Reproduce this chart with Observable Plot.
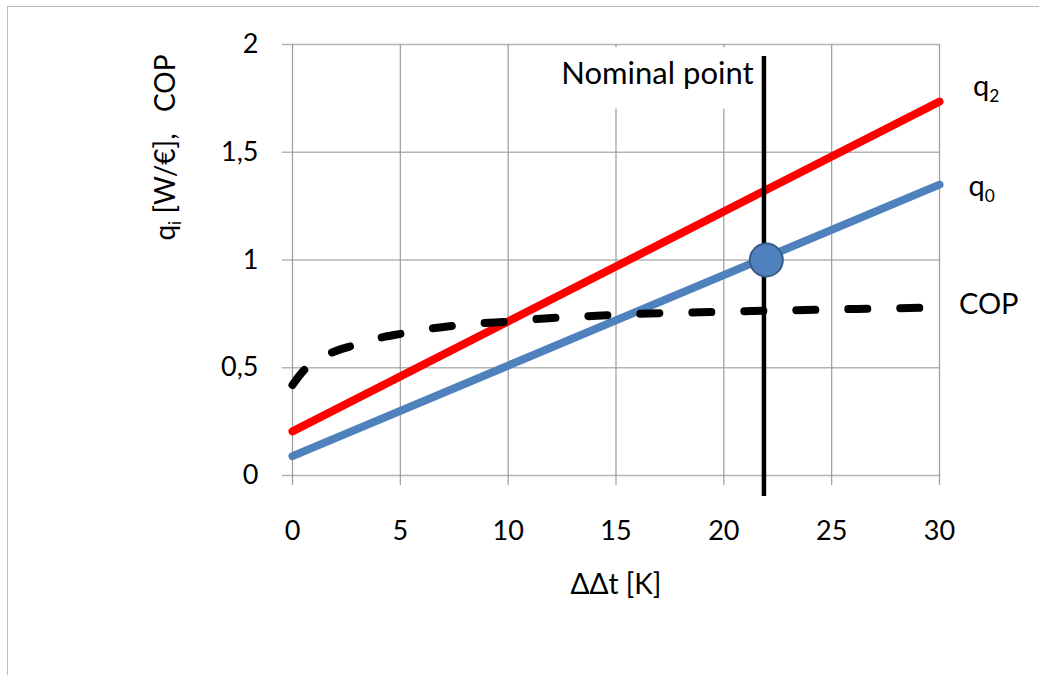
<!DOCTYPE html>
<html><head><meta charset="utf-8">
<script src="https://cdn.jsdelivr.net/npm/d3@7"></script>
<script src="https://cdn.jsdelivr.net/npm/@observablehq/plot@0.6"></script>
<style>
body{margin:0;background:#fff;}
#wrap{position:relative;width:1039px;height:675px;overflow:hidden;background:#fff;}
#border{position:absolute;left:7px;top:6px;width:1200px;height:900px;border-left:1.5px solid #bcbcbc;border-top:1.5px solid #bcbcbc;}
#chart{position:absolute;left:0;top:0;}
#chart text{white-space:pre;}
</style></head><body>
<div id="wrap"><div id="border"></div><div id="chart"></div></div>
<script>
// ---- data ----
const xTicks = [0, 5, 10, 15, 20, 25, 30];
const yTicks = [0, 0.5, 1, 1.5, 2];
const yTickLabels = ["0", "0,5", "1", "1,5", "2"];

const qX = [0, 30];
const q2 = [0.205, 1.735];
const q0 = [0.09, 1.35];

const copX = [0, 0.5, 1, 1.7, 2.7, 4, 5, 6.3, 7.4, 8.7, 10, 11.7, 14.1, 16.5, 18.9, 21.3, 23.8, 26.2, 28.6, 30];
const cop  = [0.42, 0.485, 0.525, 0.565, 0.6, 0.638, 0.657, 0.68, 0.694, 0.706, 0.714, 0.729, 0.741, 0.752, 0.757, 0.763, 0.768, 0.773, 0.777, 0.78];

const nominalX = 21.86;
const nominalRange = [-0.097, 1.944];
const nominalPoint = [{x: 21.97, y: 1.0}];

const seriesLabels = [
  {text: "q_2", x: 31.55, y: 1.76},
  {text: "q_0", x: 31.35, y: 1.296},
  {text: "COP", x: 30.9, y: 0.75}
];
const nominalLabel = [{text: "Nominal point", x: 21.38, y: 1.815}];
const labelBox = [{x1: 11.5, x2: 21.7, y1: 1.70, y2: 1.985}];
const xTitle = "ΔΔt [K]";
const yTitle = "q_i [W/€],   COP";

// ---- tables ----
const q2Data = qX.map((x, i) => ({x, y: q2[i]}));
const q0Data = qX.map((x, i) => ({x, y: q0[i]}));
const copData = copX.map((x, i) => ({x, y: cop[i]}));
const yFmt = d => yTickLabels[yTicks.indexOf(d)];

const font = "Lato, 'Open Sans', sans-serif";

const chart = Plot.plot({
  width: 1039,
  height: 675,
  marginLeft: 292,
  marginRight: 100,
  marginTop: 44,
  marginBottom: 200,
  style: {fontFamily: font, fontSize: "27px", color: "black", background: "transparent"},
  x: {domain: [0, 30]},
  y: {domain: [0, 2]},
  marks: [
    Plot.gridY(yTicks, {stroke: "#b4b4b4", strokeOpacity: 1, strokeWidth: 1.5}),
    Plot.gridX(xTicks, {stroke: "#9c9c9c", strokeOpacity: 1, strokeWidth: 1.2}),
    Plot.axisY({ticks: yTicks, tickFormat: yFmt, tickSize: 10, tickPadding: 24, stroke: "#b4b4b4", strokeWidth: 1.5, fill: "black", fontSize: 27, label: null}),
    Plot.axisX({ticks: xTicks, tickSize: 10, tickPadding: 35, stroke: "#9c9c9c", strokeWidth: 1.2, fill: "black", fontSize: 27, label: null}),
    Plot.rect(labelBox, {x1: "x1", x2: "x2", y1: "y1", y2: "y2", fill: "white"}),
    Plot.line(q0Data, {x: "x", y: "y", stroke: "#4f81bd", strokeWidth: 8}),
    Plot.line(q2Data, {x: "x", y: "y", stroke: "#ff0000", strokeWidth: 8}),
    Plot.line(copData, {x: "x", y: "y", stroke: "black", strokeWidth: 8, curve: "monotone-x", strokeDasharray: "19,33", strokeLinecap: "round"}),
    Plot.ruleX([nominalX], {y1: nominalRange[0], y2: nominalRange[1], stroke: "black", strokeWidth: 4.5}),
    Plot.dot(nominalPoint, {x: "x", y: "y", r: 16.5, fill: "#4f81bd", stroke: "#385d8a", strokeWidth: 2}),
    Plot.text(nominalLabel, {x: "x", y: "y", text: "text", textAnchor: "end", lineAnchor: "bottom", fontSize: 31, fill: "black"}),
    Plot.text(seriesLabels, {x: "x", y: "y", text: "text", textAnchor: "start", lineAnchor: "bottom", fontSize: 29, fill: "black"}),
    Plot.text([xTitle], {frameAnchor: "bottom", dy: 110, textAnchor: "middle", lineAnchor: "middle", fontSize: 28, fill: "black"}),
    Plot.text([yTitle], {frameAnchor: "top-left", dx: -126, dy: 103, rotate: -90, textAnchor: "middle", lineAnchor: "middle", fontSize: 28, fill: "black"})
  ]
});

// subscripts: "a_b rest" -> a, sub b, rest
d3.select(chart).selectAll("text").each(function() {
  const s = this.textContent;
  const m = s.match(/^(.*?)_(\w)(.*)$/);
  if (!m) return;
  const t = d3.select(this);
  const fs = parseFloat(getComputedStyle(this).fontSize) || 28;
  t.text(null);
  t.append("tspan").text(m[1]);
  t.append("tspan").attr("dy", fs * 0.2).attr("font-size", fs * 0.62).text(m[2]);
  if (m[3]) t.append("tspan").attr("dy", -fs * 0.2).text(m[3]);
});

document.getElementById("chart").appendChild(chart);
</script>
</body></html>
